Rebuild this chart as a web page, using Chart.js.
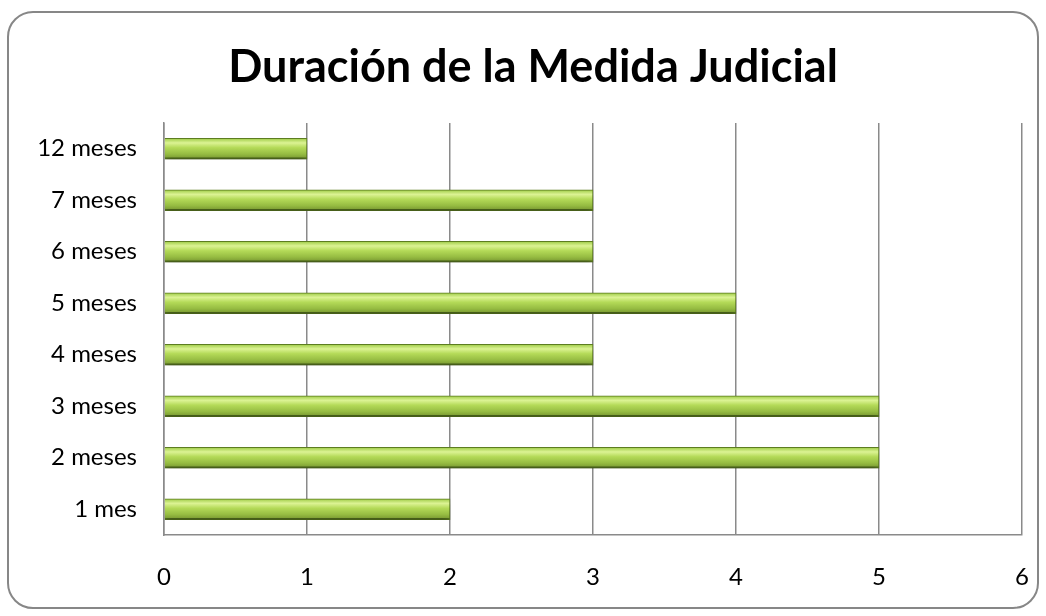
<!DOCTYPE html>
<html>
<head>
<meta charset="utf-8">
<script src="https://cdn.jsdelivr.net/npm/chart.js@4.4.0/dist/chart.umd.min.js"></script>
<style>
  html, body { margin: 0; padding: 0; background: #fff; }
  #frame {
    position: absolute; left: 7px; top: 11px; width: 1028px; height: 594px;
    border: 2px solid #878787; border-radius: 26px; box-sizing: content-box;
  }
  #wrap { position: absolute; left: 0; top: 0; width: 1046px; height: 616px; }
</style>
</head>
<body>
<div id="frame"></div>
<div id="wrap"><canvas id="main-chart" width="1046" height="616"></canvas></div>
<script>
// ── Data ─────────────────────────────────────────────────────
const CATEGORIES = ['12 meses', '7 meses', '6 meses', '5 meses', '4 meses', '3 meses', '2 meses', '1 mes'];
const COUNTS = [1, 3, 3, 4, 3, 5, 5, 2];
const X_TICKS = [0, 1, 2, 3, 4, 5, 6];

const FONT = "Lato, 'Open Sans', sans-serif";
const BAR_H = 21;

// green glossy gradient per bar, built from the y scale position
function barFill(ctx) {
  const chart = ctx.chart;
  const y = chart.scales && chart.scales.y;
  if (!chart.chartArea || !y) return '#a8d048';
  const cy = y.getPixelForValue(ctx.dataIndex);
  const g = chart.ctx.createLinearGradient(0, cy - BAR_H / 2, 0, cy + BAR_H / 2);
  g.addColorStop(0, '#9cca44');
  g.addColorStop(0.22, '#dcf394');
  g.addColorStop(0.45, '#b4da58');
  g.addColorStop(0.75, '#96bc42');
  g.addColorStop(1, '#74932f');
  return g;
}

// soft shadow under bars
const shadowPlugin = {
  id: 'barShadow',
  beforeDatasetsDraw(chart) {
    const c = chart.ctx;
    c.save();
    c.shadowColor = 'rgba(0,0,0,0.3)';
    c.shadowBlur = 7;
    c.shadowOffsetY = 5;
  },
  afterDatasetsDraw(chart) { chart.ctx.restore(); }
};

// title sits a bit right of the canvas centre, as in the original
const titleShift = {
  id: 'titleShift',
  afterLayout(chart) {
    const t = chart.titleBlock;
    if (t) { t.left = 44; t.right = 1022; t.width = t.right - t.left; }
  }
};

new Chart(document.getElementById('main-chart').getContext('2d'), {
  type: 'bar',
  data: {
    labels: CATEGORIES,
    datasets: [{
      data: COUNTS,
      backgroundColor: barFill,
      borderColor: '#5f7f22',
      borderWidth: { top: 1, bottom: 2, right: 1, left: 0 },
      borderSkipped: 'start',
      barThickness: BAR_H,
    }]
  },
  options: {
    indexAxis: 'y',
    responsive: false,
    animation: false,
    layout: { padding: { left: 0, right: 24, top: 0, bottom: 0 } },
    plugins: {
      legend: { display: false },
      tooltip: { enabled: false },
      title: {
        display: true,
        text: 'Duración de la Medida Judicial',
        color: '#000',
        font: { family: FONT, size: 45, weight: 'bold', lineHeight: 1.2 },
        padding: { top: 40, bottom: 29 }
      }
    },
    scales: {
      x: {
        min: 0, max: 6,
        afterFit: s => { s.height = 81; s.paddingLeft = 0; s.paddingRight = 0; },
        afterBuildTicks: s => { s.ticks = X_TICKS.map(v => ({ value: v })); },
        ticks: { color: '#000', padding: 28, font: { family: FONT, size: 24 } },
        grid: { color: '#8a8a8a', lineWidth: 1.5, drawTicks: false },
        border: { display: true, color: '#8a8a8a', width: 1.5 }
      },
      y: {
        afterFit: s => { s.width = 164; },
        ticks: { color: '#000', padding: 27, font: { family: FONT, size: 24 } },
        grid: { display: false, drawTicks: false },
        border: { display: true, color: '#8a8a8a', width: 1.5 }
      }
    }
  },
  plugins: [shadowPlugin, titleShift]
});
</script>
</body>
</html>
